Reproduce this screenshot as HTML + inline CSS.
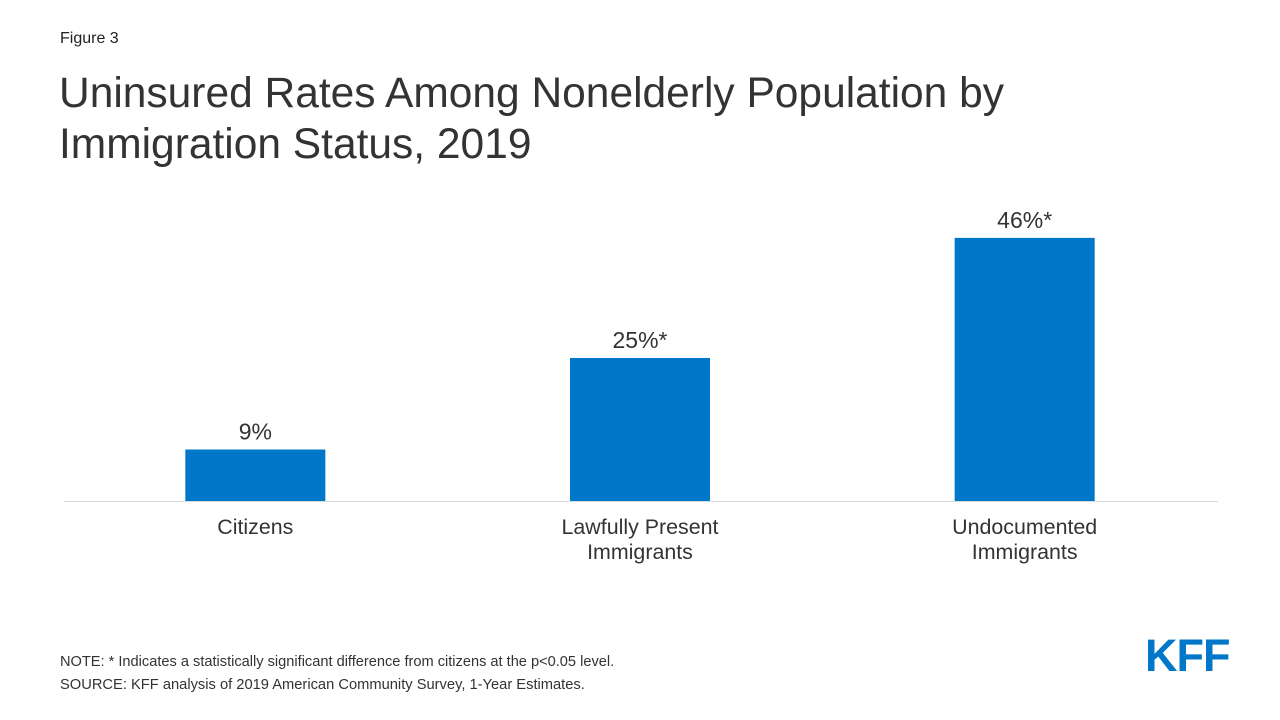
<!DOCTYPE html>
<html><head><meta charset="utf-8"><style>
body{margin:0;width:1280px;height:720px;background:#fff;font-family:"Liberation Sans",Arial,sans-serif;color:#333;position:relative;overflow:hidden}
.abs{position:absolute}
</style></head><body>
<div class="abs" style="left:60px;top:30px;font-size:16px;color:#222">Figure 3</div>
<div class="abs" style="left:59px;top:68px;font-size:42.5px;line-height:51px;color:#333">Uninsured Rates Among Nonelderly Population by<br>Immigration Status, 2019</div>
<svg class="abs" style="left:0;top:0" width="1280" height="720" id="chart"></svg>
<div class="abs" style="left:60px;top:654px;font-size:14.6px;color:#333">NOTE: * Indicates a statistically significant difference from citizens at the p&lt;0.05 level.</div>
<div class="abs" style="left:60px;top:677px;font-size:14.7px;color:#333">SOURCE: KFF analysis of 2019 American Community Survey, 1-Year Estimates.</div>
<div class="abs" style="left:1145px;top:630px;font-size:45px;font-weight:bold;color:#0077c8;letter-spacing:-1px">KFF</div>
<script>
const categories=[["Citizens"],["Lawfully Present","Immigrants"],["Undocumented","Immigrants"]];
const values=[9,25,46];
const valueLabels=["9%","25%*","46%*"];
const svg=document.getElementById('chart');
const NS='http://www.w3.org/2000/svg';
const baseY=501, pxPer=5.72, x0=64, x1=1218, barW=140;
const band=(x1-x0)/categories.length;
function xc(i){return x0+band*(i+0.5)-1;}
function y(v){return baseY-v*pxPer;}
const ax=document.createElementNS(NS,'line');
ax.setAttribute('x1',x0);ax.setAttribute('x2',x1);ax.setAttribute('y1',baseY+0.5);ax.setAttribute('y2',baseY+0.5);
ax.setAttribute('stroke','#d9d9d9');ax.setAttribute('stroke-width','1');


svg.appendChild(ax);
values.forEach((v,i)=>{
 const r=document.createElementNS(NS,'rect');
 r.setAttribute('x',xc(i)-barW/2);r.setAttribute('y',y(v));r.setAttribute('width',barW);r.setAttribute('height',baseY-y(v));
 r.setAttribute('fill','#0077c8');
 
 
 svg.appendChild(r);
 const t=document.createElementNS(NS,'text');
 t.setAttribute('x',xc(i));t.setAttribute('y',y(v)-10);t.setAttribute('text-anchor','middle');
 t.setAttribute('font-size','23');t.setAttribute('fill','#333');t.setAttribute('font-family','Liberation Sans, sans-serif');
 t.textContent=valueLabels[i];
 
 
 svg.appendChild(t);
 categories[i].forEach((line,j)=>{
  const c=document.createElementNS(NS,'text');
  c.setAttribute('x',xc(i));c.setAttribute('y',534+j*25);c.setAttribute('text-anchor','middle');
  c.setAttribute('font-size','21.4');c.setAttribute('fill','#333');c.setAttribute('font-family','Liberation Sans, sans-serif');
  c.textContent=line;
  
  
  svg.appendChild(c);
 });
});
</script>
</body></html>
